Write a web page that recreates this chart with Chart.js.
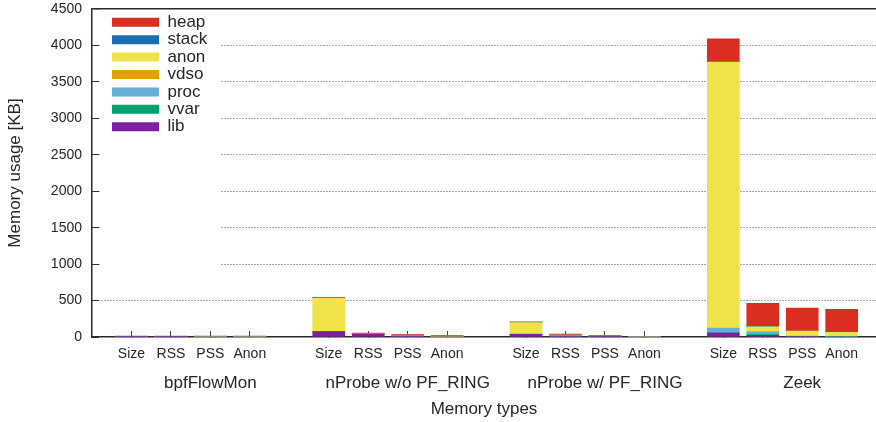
<!DOCTYPE html>
<html>
<head>
<meta charset="utf-8">
<title>Memory usage per tool</title>
<script src="https://cdn.jsdelivr.net/npm/chart.js@4.4.1/dist/chart.umd.min.js"></script>
<style>
  html, body { margin: 0; padding: 0; background: #ffffff; }
  #wrap { width: 876px; height: 422px; }
</style>
</head>
<body>
<div id="wrap"><canvas id="chart" width="876" height="422"></canvas></div>
<script>
// Monitoring tools (outer groups) and memory metrics (bars inside each group)
const tools = ['bpfFlowMon', 'nProbe w/o PF_RING', 'nProbe w/ PF_RING', 'Zeek'];
const memTypes = ['Size', 'RSS', 'PSS', 'Anon'];
const yTickValues = [0, 500, 1000, 1500, 2000, 2500, 3000, 3500, 4000, 4500];

// Memory per mapping kind in KB; 16 values each: tool by tool, Size / RSS / PSS / Anon
const lib   = [1, 1, 0, 0,    75, 40, 14, 0,    37, 12, 5, 0,    55, 24, 4, 0];
const vvar  = [0, 0, 0, 0,    1, 1, 0, 0,       1, 0, 0, 0,      2, 10, 4, 2];
const proc  = [0, 0, 0, 0,    1, 1, 0, 0,       1, 1, 0, 0,      62, 34, 2, 0];
const vdso  = [0, 0, 0, 0,    1, 0, 2, 2,       0, 0, 0, 0,      2, 4, 2, 2];
const anon  = [2, 1, 1, 1,    455, 2, 12, 12,   158, 14, 6, 2,   3651, 69, 68, 60];
const stack = [0, 0, 0, 0,    1, 0, 0, 0,       0, 0, 0, 0,      2, 3, 0, 0];
const heap  = [10, 10, 10, 10, 10, 10, 10, 10,  10, 14, 12, 8,   316, 319, 316, 316];

// Each group takes one slot per metric plus an empty slot as a gap
const slotsPerGroup = memTypes.length + 1;
const barSlots = [];
tools.forEach((t, ti) => memTypes.forEach((m, mi) => barSlots.push(ti * slotsPerGroup + mi)));
const groupCentres = tools.map((t, ti) => ti * slotsPerGroup + 2);

const layers = [
  { label: 'lib',   values: lib,   color: '#7d1fa5' },
  { label: 'vvar',  values: vvar,  color: '#00a070' },
  { label: 'proc',  values: proc,  color: '#68afd8' },
  { label: 'vdso',  values: vdso,  color: '#e69f00' },
  { label: 'anon',  values: anon,  color: '#f0e34a' },
  { label: 'stack', values: stack, color: '#1a6fb2' },
  { label: 'heap',  values: heap,  color: '#db2d20' }
];

const TEXT = '#262626';
const AXIS = '#2b2b2b';
const FONT = "'Liberation Sans', Arial, Helvetica, sans-serif";
Chart.defaults.font.family = FONT;
Chart.defaults.color = TEXT;

const xMin = -1, xMax = 18.87;

// Places the key in the upper-left corner of the plot and gives it an opaque backdrop
const keyPlacement = {
  id: 'keyPlacement',
  beforeDraw(chart) {
    const lg = chart.legend, a = chart.chartArea;
    lg.left = a.left + 19.6;
    lg.top = a.top + 4.4;
  },
  afterDatasetsDraw(chart) {
    const { ctx, chartArea: a } = chart;
    ctx.save();
    ctx.fillStyle = '#ffffff';
    ctx.fillRect(a.left + 9, a.top + 1, 120, 272);
    ctx.restore();
    chart.legend.draw();
  }
};

const edge = v => v === 0 || v === 4500;

new Chart(document.getElementById('chart'), {
  type: 'bar',
  data: {
    datasets: layers.map(l => ({
      label: l.label,
      data: l.values.map((v, i) => ({ x: barSlots[i], y: v })),
      backgroundColor: l.color,
      borderWidth: 0,
      barThickness: 32
    }))
  },
  options: {
    responsive: false,
    animation: false,
    devicePixelRatio: 1,
    layout: { padding: { top: 9, right: 0, bottom: 0, left: 0 } },
    plugins: {
      legend: {
        position: 'chartArea',
        align: 'start',
        reverse: true,
        labels: {
          boxWidth: 47,
          boxHeight: 9,
          padding: 0.4,
          color: TEXT,
          font: { family: FONT, size: 17 }
        }
      },
      tooltip: { enabled: false }
    },
    scales: {
      x: {
        type: 'linear',
        position: 'bottom',
        weight: 0,
        offset: false,
        min: xMin,
        max: xMax,
        stacked: true,
        afterBuildTicks: s => { s.ticks = barSlots.map(v => ({ value: v })); },
        afterFit: s => { s.height = 30; s.paddingLeft = 0; s.paddingRight = 0; },
        grid: {
          display: true,
          offset: false,
          drawOnChartArea: false,
          drawTicks: true,
          tickLength: -6,
          tickColor: '#444',
          tickWidth: 1
        },
        border: { display: true, color: AXIS, width: 1.5 },
        ticks: {
          autoSkip: false,
          maxRotation: 0,
          padding: 15,
          color: TEXT,
          font: { family: FONT, size: 14 },
          callback: v => memTypes[v % slotsPerGroup]
        }
      },
      groups: {
        type: 'linear',
        position: 'bottom',
        weight: 1,
        offset: false,
        min: xMin,
        max: xMax,
        afterBuildTicks: s => { s.ticks = groupCentres.map(v => ({ value: v })); },
        afterFit: s => { s.height = 55; s.paddingLeft = 0; s.paddingRight = 0; },
        grid: { display: false, offset: false, drawTicks: false },
        border: { display: false },
        ticks: {
          autoSkip: false,
          maxRotation: 0,
          padding: 6,
          color: TEXT,
          font: { family: FONT, size: 17 },
          callback: (v, i) => tools[i]
        },
        title: {
          display: true,
          text: 'Memory types',
          color: TEXT,
          font: { family: FONT, size: 17 },
          padding: { top: 0, bottom: 2 }
        }
      },
      y: {
        type: 'linear',
        position: 'left',
        min: 0,
        max: 4500,
        stacked: true,
        afterBuildTicks: s => { s.ticks = yTickValues.map(v => ({ value: v })); },
        afterFit: s => { s.width = 92; s.paddingTop = 0; s.paddingBottom = 0; },
        grid: {
          color: c => (c.tick && c.tick.value === 0) ? 'rgba(0,0,0,0)' : (c.tick && c.tick.value === 4500 ? AXIS : 'rgba(70,70,70,0.9)'),
          lineWidth: c => (c.tick && c.tick.value === 4500) ? 1.5 : 1,
          drawTicks: true,
          tickLength: -7,
          tickColor: '#333',
          tickWidth: 1
        },
        border: {
          display: true,
          color: AXIS,
          width: 1.5,
          dash: c => (c.tick && edge(c.tick.value)) ? [] : [1, 2]
        },
        ticks: {
          padding: 17,
          color: TEXT,
          font: { family: FONT, size: 14 },
          callback: v => String(v)
        },
        title: {
          display: true,
          text: 'Memory usage [KB]',
          color: TEXT,
          font: { family: FONT, size: 17 },
          padding: { top: 5, bottom: 0 }
        }
      }
    }
  },
  plugins: [keyPlacement]
});
</script>
</body>
</html>
